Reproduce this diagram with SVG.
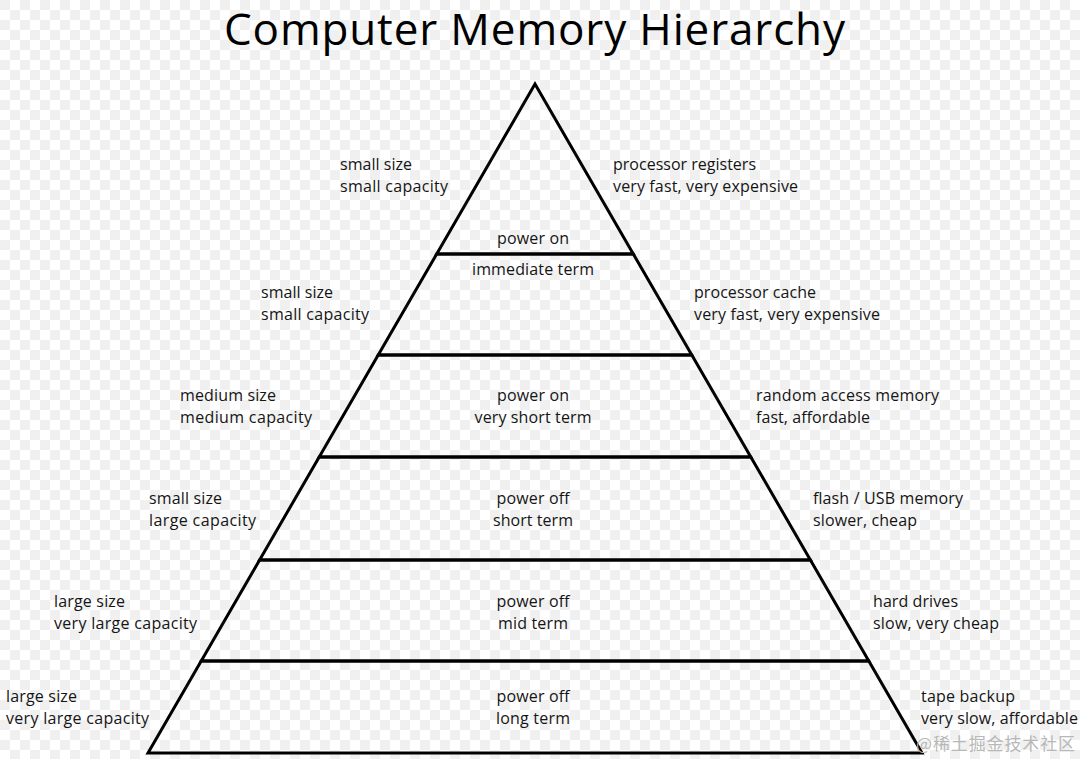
<svg xmlns="http://www.w3.org/2000/svg" width="1080" height="759" viewBox="0 0 1080 759">
<defs>
<pattern id="checker" x="0" y="0" width="20" height="20" patternUnits="userSpaceOnUse">
<rect width="20" height="20" fill="#ffffff"/>
<rect x="0" y="0" width="10" height="10" fill="#f0f0f0"/>
<rect x="10" y="10" width="10" height="10" fill="#f0f0f0"/>
</pattern>
<style>
.t{font-family:"Open Sans","Liberation Sans",sans-serif;font-size:16px;fill:#151515}
.c{text-anchor:middle}
.tier{fill:none;stroke:#000;stroke-width:3;stroke-linejoin:miter}
.title{font-family:"Open Sans","Liberation Sans",sans-serif;font-size:44px;fill:#000}
.wm{font-family:"Noto Sans CJK SC",sans-serif;font-size:17px;fill:#b8b8b8}
</style>
</defs>
<rect width="1080" height="759" fill="url(#checker)"/>
<text class="title" x="224" y="45" textLength="621">Computer Memory Hierarchy</text>

<g id="tier1">
<polygon class="tier" points="535,84 633.3,254 436.7,254"/>
<text class="t c" x="533" y="244" textLength="72">power on</text>
<text class="t" x="340" y="170" textLength="72">small size</text>
<text class="t" x="340" y="192" textLength="108">small capacity</text>
<text class="t" x="613" y="170" textLength="143">processor registers</text>
<text class="t" x="613" y="192" textLength="185">very fast, very expensive</text>
</g>
<g id="tier2">
<polygon class="tier" points="436.7,254 633.3,254 691.8,355 378.2,355"/>
<text class="t c" x="533" y="275" textLength="122">immediate term</text>
<text class="t" x="261" y="298" textLength="72">small size</text>
<text class="t" x="261" y="320" textLength="108">small capacity</text>
<text class="t" x="694" y="298" textLength="122">processor cache</text>
<text class="t" x="694" y="320" textLength="186">very fast, very expensive</text>
</g>
<g id="tier3">
<polygon class="tier" points="378.2,355 691.8,355 750.8,457 319.2,457"/>
<text class="t c" x="533" y="401" textLength="72">power on</text>
<text class="t c" x="533" y="423" textLength="117">very short term</text>
<text class="t" x="180" y="401" textLength="96">medium size</text>
<text class="t" x="180" y="423" textLength="132">medium capacity</text>
<text class="t" x="756" y="401" textLength="183">random access memory</text>
<text class="t" x="756" y="423" textLength="114">fast, affordable</text>
</g>
<g id="tier4">
<polygon class="tier" points="319.2,457 750.8,457 810.4,560 259.6,560"/>
<text class="t c" x="533" y="504" textLength="73">power off</text>
<text class="t c" x="533" y="526" textLength="80">short term</text>
<text class="t" x="149" y="504" textLength="73">small size</text>
<text class="t" x="149" y="526" textLength="107">large capacity</text>
<text class="t" x="813" y="504" textLength="150">flash / USB memory</text>
<text class="t" x="813" y="526" textLength="104">slower, cheap</text>
</g>
<g id="tier5">
<polygon class="tier" points="259.6,560 810.4,560 868.8,661 201.2,661"/>
<text class="t c" x="533" y="607" textLength="73">power off</text>
<text class="t c" x="533" y="629" textLength="70">mid term</text>
<text class="t" x="54" y="607" textLength="71">large size</text>
<text class="t" x="54" y="629" textLength="143">very large capacity</text>
<text class="t" x="873" y="607" textLength="85">hard drives</text>
<text class="t" x="873" y="629" textLength="126">slow, very cheap</text>
</g>
<g id="tier6">
<polygon class="tier" points="201.2,661 868.8,661 922,753 148,753"/>
<text class="t c" x="533" y="702" textLength="73">power off</text>
<text class="t c" x="533" y="724" textLength="74">long term</text>
<text class="t" x="6" y="702" textLength="71">large size</text>
<text class="t" x="6" y="724" textLength="143">very large capacity</text>
<text class="t" x="921" y="702" textLength="94">tape backup</text>
<text class="t" x="921" y="724" textLength="157">very slow, affordable</text>
</g>
<g id="connectors"></g>
<text class="wm" x="916" y="750" textLength="159">@稀土掘金技术社区</text>
</svg>
